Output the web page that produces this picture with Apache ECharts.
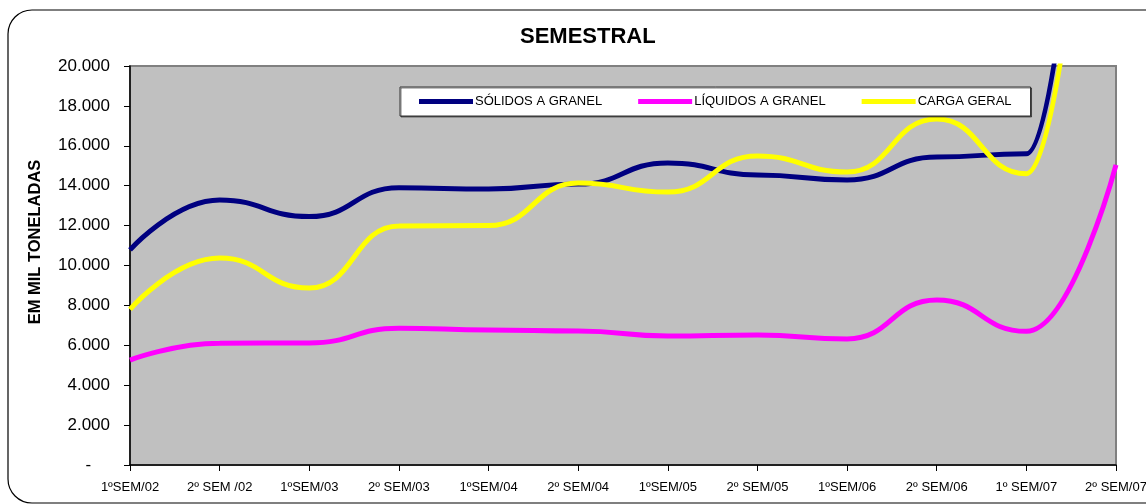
<!DOCTYPE html>
<html>
<head>
<meta charset="utf-8">
<script src="https://cdn.jsdelivr.net/npm/echarts@6/dist/echarts.min.js"></script>
<style>
  html, body { margin: 0; padding: 0; background: #fff; }
  #main { width: 1146px; height: 504px; }
</style>
</head>
<body>
<div id="main"></div>
<script>
// categorias do eixo x
var semestres = ['1ºSEM/02', '2º SEM /02', '1ºSEM/03', '2º SEM/03', '1ºSEM/04', '2º SEM/04',
  '1ºSEM/05', '2º SEM/05', '1ºSEM/06', '2º SEM/06', '1º SEM/07', '2º SEM/07'];
// valores em mil toneladas (o ultimo semestre passa do topo da escala)
var solidos = [10780, 13280, 12450, 13900, 13830, 14080, 15140, 14540, 14290, 15440, 15600, 55000];
var liquidos = [5260, 6100, 6120, 6860, 6770, 6720, 6470, 6520, 6320, 8270, 6700, 15040];
var carga = [7800, 10370, 8870, 11980, 12000, 14130, 13680, 15490, 14690, 17340, 14600, 48000];

var fonte = '"Liberation Sans", Arial, sans-serif';

var myChart = echarts.init(document.getElementById('main'));

var option = {
  backgroundColor: '#fff',
  animation: false,
  title: {
    text: 'SEMESTRAL',
    left: 515,
    top: 21,
    textStyle: { fontFamily: fonte, fontSize: 22, fontWeight: 'bold', color: '#000' }
  },
  legend: {
    left: 400,
    top: 87,
    padding: [8, 19, 8, 19],
    itemGap: 36,
    itemWidth: 54,
    itemHeight: 5,
    icon: 'rect',
    backgroundColor: '#fff',
    borderColor: '#333',
    borderWidth: 1,
    shadowColor: 'rgba(0,0,0,0.5)',
    shadowOffsetX: 1,
    shadowOffsetY: 1,
    textStyle: { fontFamily: fonte, fontSize: 13, color: '#000', padding: [0, 0, 0, -3] },
    data: ['SÓLIDOS A GRANEL', 'LÍQUIDOS A GRANEL', 'CARGA GERAL']
  },
  grid: {
    left: 130,
    right: 30,
    top: 66,
    bottom: 39,
    outerBoundsMode: 'none',
    show: true,
    backgroundColor: '#c0c0c0',
    borderColor: '#808080',
    borderWidth: 2
  },
  xAxis: {
    type: 'category',
    boundaryGap: false,
    data: semestres,
    axisLine: { lineStyle: { color: '#000', width: 1.5 } },
    axisTick: { length: 6, lineStyle: { color: '#000' }, interval: 0 },
    axisLabel: { interval: 0, margin: 16, fontFamily: fonte, fontSize: 13, color: '#000' },
    splitLine: { show: false }
  },
  yAxis: {
    type: 'value',
    min: 0,
    max: 20000,
    interval: 2000,
    axisLine: { show: true, lineStyle: { color: '#000', width: 1.5 } },
    axisTick: { show: true, length: 6, lineStyle: { color: '#000' } },
    axisLabel: {
      margin: 20,
      fontFamily: fonte,
      fontSize: 17,
      color: '#000',
      formatter: function (v) {
        if (v === 0) return '-    ';
        return (v / 1000).toFixed(3);
      }
    },
    splitLine: { show: false }
  },
  graphic: [
    {
      type: 'rect',
      shape: { x: 8, y: 10, width: 1170, height: 493, r: 24 },
      style: { fill: 'none', stroke: '#000', lineWidth: 1.2 },
      z: -1
    },
    {
      type: 'text',
      x: 35,
      y: 242,
      rotation: Math.PI / 2,
      style: {
        text: 'EM MIL TONELADAS',
        fontFamily: fonte,
        fontSize: 16.5,
        fontWeight: 'bold',
        fill: '#000',
        align: 'center',
        verticalAlign: 'middle'
      }
    }
  ],
  series: [
    {
      name: 'SÓLIDOS A GRANEL',
      type: 'line',
      smooth: 0.5,
      smoothMonotone: 'x',
      symbol: 'none',
      data: solidos,
      lineStyle: { color: '#000080', width: 5 },
      itemStyle: { color: '#000080' }
    },
    {
      name: 'LÍQUIDOS A GRANEL',
      type: 'line',
      smooth: 0.5,
      smoothMonotone: 'x',
      symbol: 'none',
      data: liquidos,
      lineStyle: { color: '#ff00ff', width: 5 },
      itemStyle: { color: '#ff00ff' }
    },
    {
      name: 'CARGA GERAL',
      type: 'line',
      smooth: 0.5,
      smoothMonotone: 'x',
      symbol: 'none',
      data: carga,
      lineStyle: { color: '#ffff00', width: 5 },
      itemStyle: { color: '#ffff00' }
    }
  ]
};

option && myChart.setOption(option);
</script>
</body>
</html>
